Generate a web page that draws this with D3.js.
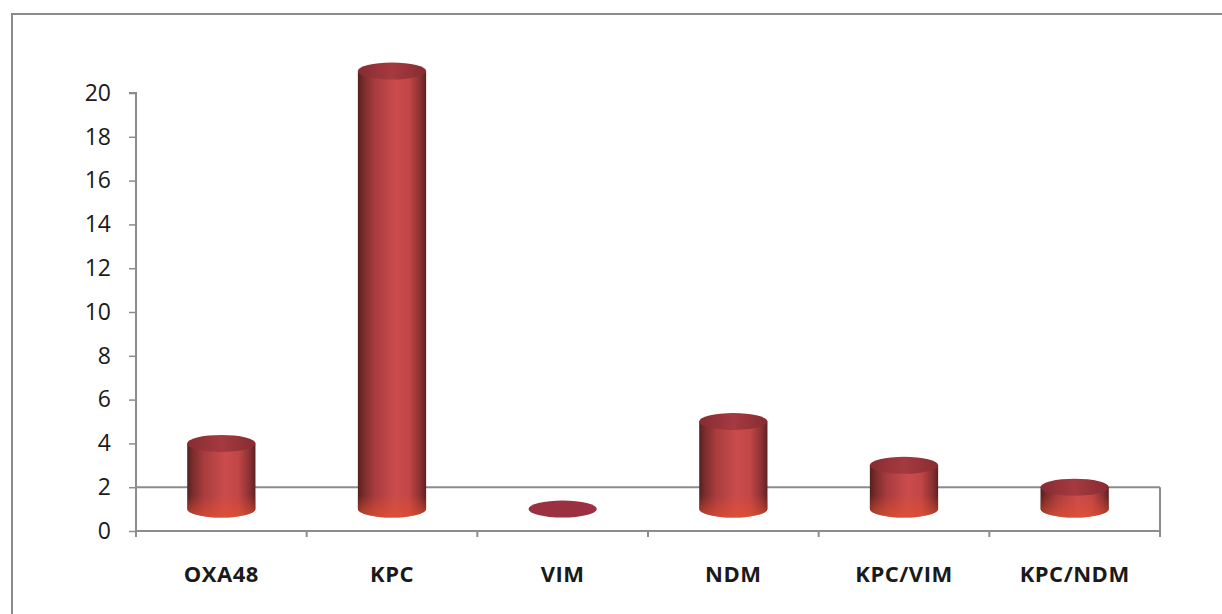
<!DOCTYPE html>
<html>
<head>
<meta charset="utf-8">
<script src="https://cdn.jsdelivr.net/npm/d3@7"></script>
<style>
  html, body { margin: 0; padding: 0; background: #fff; }
  svg { display: block; }
</style>
</head>
<body>
<svg id="chart" width="1222" height="614"></svg>
<script>
const categories = ["OXA48", "KPC", "VIM", "NDM", "KPC/VIM", "KPC/NDM"];
const values = [3, 20, 0, 4, 2, 1];
const yTicks = [0, 2, 4, 6, 8, 10, 12, 14, 16, 18, 20];
const yTickLabels = ["0", "2", "4", "6", "8", "10", "12", "14", "16", "18", "20"];

const svg = d3.select("#chart");
const W = 1222, H = 614;
const plotL = 136, plotR = 1160, plotB = 531, plotT = 93;

const x = d3.scaleBand().domain(categories).range([plotL, plotR]).paddingInner(0.6).paddingOuter(0.3);
const y = d3.scaleLinear().domain([0, 20]).range([plotB, plotT]);
const depth = y(0) - y(2);          // floor depth in px (back edge at value 2)
const off = depth / 2;              // bars stand in middle of the floor
const rx = x.bandwidth() / 2;
const ry = 8.5;

// outer border (top and left)
svg.append("path")
  .attr("d", `M12,${H} L12,14 L${W},14`)
  .attr("fill", "none").attr("stroke", "#8a8a8a").attr("stroke-width", 2);

const defs = svg.append("defs");
const g1 = defs.append("linearGradient").attr("id", "body").attr("x1", 0).attr("x2", 1).attr("y1", 0).attr("y2", 0);
[[0, "#552020"], [0.08, "#7a2c2c"], [0.25, "#a83c3e"], [0.55, "#cb4c4c"], [0.75, "#c24646"], [0.92, "#8a3032"], [1, "#5a2222"]]
  .forEach(s => g1.append("stop").attr("offset", s[0]).attr("stop-color", s[1]));
const g2 = defs.append("linearGradient").attr("id", "rim").attr("x1", 0).attr("x2", 0).attr("y1", 0).attr("y2", 1);
g2.append("stop").attr("offset", 0).attr("stop-color", "#e5502f").attr("stop-opacity", 0);
g2.append("stop").attr("offset", 1).attr("stop-color", "#e5502f").attr("stop-opacity", 0.7);
const g3 = defs.append("linearGradient").attr("id", "cap").attr("x1", 0).attr("x2", 1).attr("y1", 0).attr("y2", 0);
[[0, "#862c32"], [0.5, "#a53a40"], [1, "#862c32"]]
  .forEach(s => g3.append("stop").attr("offset", s[0]).attr("stop-color", s[1]));

// floor
const floor = svg.append("g").attr("stroke", "#8c8c8c").attr("stroke-width", 2).attr("fill", "none");
floor.append("line").attr("x1", plotL).attr("x2", plotR).attr("y1", y(0) - depth).attr("y2", y(0) - depth);
floor.append("line").attr("x1", plotR).attr("x2", plotR).attr("y1", y(0) - depth).attr("y2", y(0) + 6);
floor.append("line").attr("x1", plotL).attr("x2", plotR).attr("y1", y(0)).attr("y2", y(0));

// category boundary ticks
const step = x.step();
const bounds = d3.range(categories.length + 1).map(i => plotL + i * step);
floor.selectAll("line.ct").data(bounds).join("line").attr("class", "ct")
  .attr("x1", d => d).attr("x2", d => d).attr("y1", y(0)).attr("y2", y(0) + 6);

// y axis
const yAxis = d3.axisLeft(y).tickValues(yTicks).tickFormat((d, i) => yTickLabels[i]).tickSize(7).tickPadding(18);
const ya = svg.append("g").attr("transform", `translate(${plotL},0)`).call(yAxis);
ya.select(".domain").attr("stroke", "#8c8c8c").attr("stroke-width", 2).attr("d", `M-7,${y(20)}H0V${y(0)}`);
ya.selectAll(".tick line").attr("stroke", "#8c8c8c").attr("stroke-width", 1.5);
ya.selectAll(".tick text").attr("font-family", "'Open Sans', sans-serif").attr("font-size", 23).attr("fill", "#1a1a1a");

// cylinders
const bars = svg.append("g");
categories.forEach((c, i) => {
  const cx = x(c) + rx;
  const base = y(0) - off;
  const top = y(values[i]) - off;
  const g = bars.append("g");
  if (values[i] > 0) {
    g.append("path")
      .attr("d", `M${cx - rx},${top} L${cx - rx},${base} A${rx},${ry} 0 0 0 ${cx + rx},${base} L${cx + rx},${top} Z`)
      .attr("fill", "url(#body)");
    const rimTop = Math.max(top, base - 14);
    g.append("path")
      .attr("d", `M${cx - rx},${rimTop} L${cx - rx},${base} A${rx},${ry} 0 0 0 ${cx + rx},${base} L${cx + rx},${rimTop} Z`)
      .attr("fill", "url(#rim)");
    g.append("ellipse").attr("cx", cx).attr("cy", top).attr("rx", rx).attr("ry", ry).attr("fill", "url(#cap)");
  } else {
    g.append("ellipse").attr("cx", cx).attr("cy", top).attr("rx", rx).attr("ry", ry).attr("fill", "#9a3040");
  }
});

// category labels
svg.append("g").selectAll("text").data(categories).join("text")
  .attr("x", d => x(d) + rx).attr("y", 582)
  .attr("text-anchor", "middle")
  .attr("font-family", "'Open Sans', sans-serif").attr("font-weight", "bold")
  .attr("font-size", 22).attr("letter-spacing", 0.5).attr("fill", "#1a1a1a")
  .text(d => d);
</script>
</body>
</html>
